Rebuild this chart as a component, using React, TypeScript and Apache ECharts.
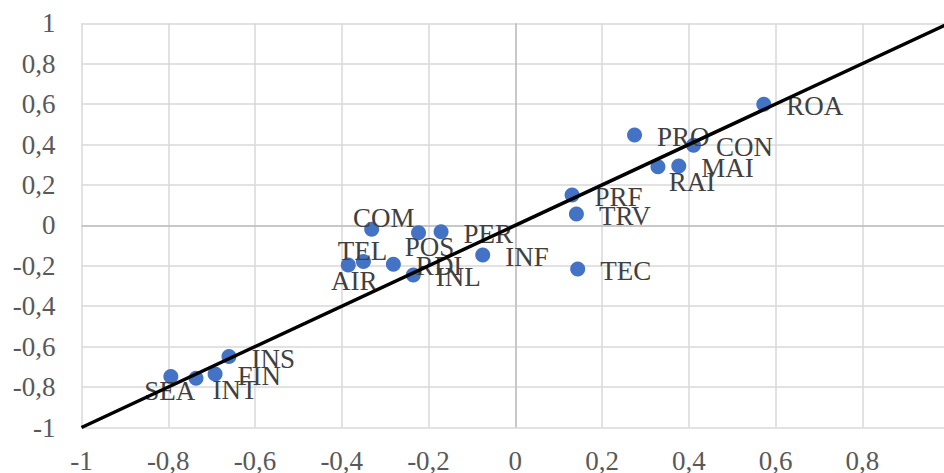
import React, { useEffect, useRef } from "react";
import * as echarts from "echarts";

// Sector codes and their coordinates on the two compared measures
const codes = [
  "ROA", "PRO", "CON", "RAI", "MAI", "PRF", "TRV", "TEC", "INF", "PER",
  "POS", "COM", "TEL", "AIR", "RDI", "INL", "INS", "FIN", "INT", "SEA",
];
const xValues = [
  0.573, 0.275, 0.411, 0.329, 0.377, 0.131, 0.141, 0.144, -0.075, -0.171,
  -0.223, -0.331, -0.35, -0.385, -0.281, -0.235, -0.66, -0.692, -0.736, -0.794,
];
const yValues = [
  0.6, 0.447, 0.397, 0.29, 0.294, 0.15, 0.056, -0.216, -0.146, -0.031,
  -0.036, -0.019, -0.179, -0.196, -0.192, -0.245, -0.649, -0.735, -0.756, -0.748,
];

// Reference diagonal y = x
const diagonal = [
  [-1, -1],
  [1, 1],
];

// Labels that sit somewhere other than to the right of their marker:
// offset of the label centre from the marker centre, in pixels
const labelShifts: Record<string, [number, number]> = {
  COM: [12, -11],
  TEL: [-1, -11],
  POS: [11, 14],
  AIR: [6, 16],
  RAI: [34, 15],
  INT: [39, 12],
  SEA: [-1, 14],
};

const FONT = "'Liberation Serif', 'Times New Roman', serif";
const LABEL_SIZE = 27;

const fmt = (v: number) => String(Number(v.toFixed(1))).replace(".", ",");

export default function App() {
  const ref = useRef<HTMLDivElement>(null);

  useEffect(() => {
    if (!ref.current) return;
    const chart = echarts.init(ref.current, undefined, { renderer: "svg" });

    const points = codes.map((name, i) => {
      const shift = labelShifts[name];
      const item: any = { name, value: [xValues[i], yValues[i]] };
      if (shift) {
        item.label = {
          position: "inside",
          align: "center",
          verticalAlign: "middle",
          offset: shift,
        };
      }
      return item;
    });

    const gridLine = { show: true, lineStyle: { color: "#d9d9d9", width: 1.5 } };
    const axisText = {
      color: "#595959",
      fontFamily: FONT,
      fontSize: LABEL_SIZE,
      formatter: fmt,
    };

    chart.setOption({
      animation: false,
      backgroundColor: "#ffffff",
      grid: {
        left: 81.5,
        right: 0,
        top: 23.3,
        bottom: 45.5,
        containLabel: false,
        outerBoundsMode: "none",
      },
      xAxis: {
        type: "value",
        min: -1,
        max: 1,
        interval: 0.2,
        axisLine: { show: false },
        axisTick: { show: false },
        splitLine: gridLine,
        axisLabel: { ...axisText, margin: 22.5, lineHeight: 22 },
      },
      yAxis: {
        type: "value",
        min: -1,
        max: 1,
        interval: 0.2,
        axisLine: { show: false },
        axisTick: { show: false },
        splitLine: gridLine,
        axisLabel: { ...axisText, margin: 26, align: "right" },
      },
      series: [
        {
          type: "scatter",
          data: points,
          symbolSize: 15,
          itemStyle: { color: "#4472c4", opacity: 1 },
          z: 2,
          label: {
            show: true,
            position: "right",
            distance: 15,
            offset: [0, 2],
            formatter: "{b}",
            color: "#404040",
            fontFamily: FONT,
            fontSize: LABEL_SIZE,
          },
          markLine: {
            silent: true,
            symbol: "none",
            label: { show: false },
            lineStyle: { color: "#bfbfbf", width: 1.5, type: "solid" },
            data: [{ xAxis: 0 }, { yAxis: 0 }],
            z: 1,
          },
        },
        {
          type: "line",
          data: diagonal,
          symbol: "none",
          lineStyle: { color: "#000000", width: 3.5 },
          z: 3,
          silent: true,
        },
      ],
    });

    return () => chart.dispose();
  }, []);

  return (
    <div
      style={{
        position: "absolute",
        left: 0,
        top: 0,
        width: 944,
        height: 473,
        overflow: "hidden",
      }}
    >
      <div ref={ref} style={{ width: 949, height: 473 }} />
    </div>
  );
}
